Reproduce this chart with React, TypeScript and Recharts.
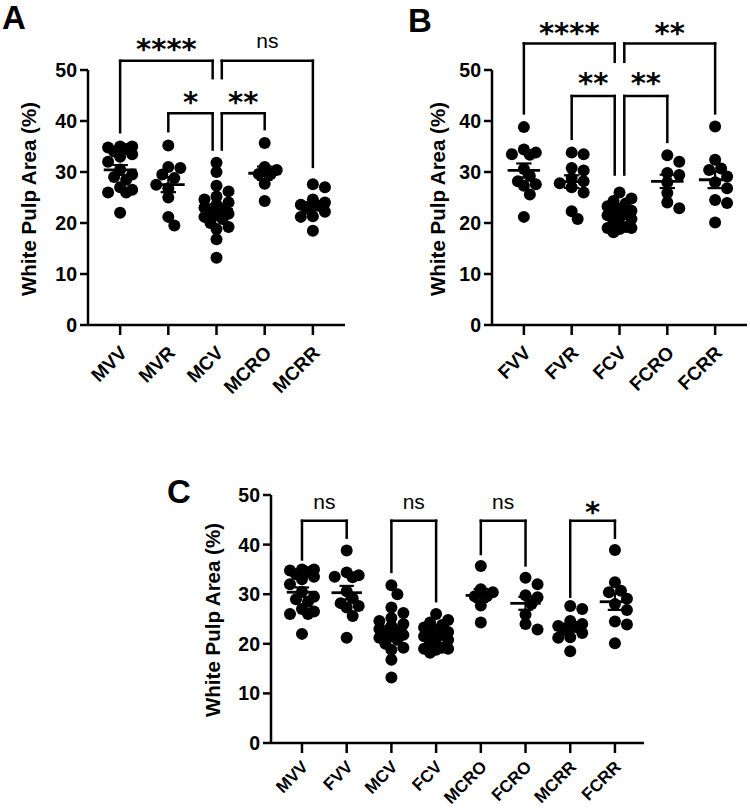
import React from 'react'
import { ScatterChart, Scatter, XAxis, YAxis, ReferenceLine, ReferenceDot } from 'recharts'

const FONT = "'Liberation Sans', Arial, Helvetica, sans-serif"

// groups per panel
const groupsA = ['MVV', 'MVR', 'MCV', 'MCRO', 'MCRR']
const groupsB = ['FVV', 'FVR', 'FCV', 'FCRO', 'FCRR']
const groupsC = ['MVV', 'FVV', 'MCV', 'FCV', 'MCRO', 'FCRO', 'MCRR', 'FCRR']
const yTicks = [0, 10, 20, 30, 40, 50]

// white pulp area (%) per animal
const mvv = [35, 35, 34.8, 34.5, 34, 33.5, 33, 32, 30.5, 29.5, 29, 28.5, 27, 26.5, 26, 26, 22]
const mvr = [35.2, 31.0, 30.8, 29.5, 28.8, 26.8, 27.5, 25.0, 21.2, 19.5]
const mcv = [31.8, 30.0, 27.3, 26.2, 25.2, 24.6, 24.0, 23.6, 23.0, 22.6, 22.2, 21.8, 21.5, 21.2, 20.8, 20.0, 19.2, 18.8, 16.8, 13.2]
const mcro = [35.7, 31.0, 30.4, 29.6, 29.6, 27.7, 24.3]
const mcrr = [27.6, 27.0, 24.6, 24.0, 23.6, 23.4, 22.8, 22.2, 21.3, 21.2, 18.5]
const fvv = [38.8, 34.4, 33.8, 33.5, 33.4, 30.6, 29.2, 28.2, 27.6, 27.3, 25.6, 21.2]
const fvr = [33.8, 33.5, 30.8, 30.3, 28.8, 28.2, 27.8, 27.0, 26.0, 22.3, 20.8]
const fcv = [26.0, 24.8, 24.3, 23.8, 23.3, 22.8, 22.4, 22.0, 21.8, 21.5, 21.0, 20.8, 20.2, 19.2, 19.0, 19.0, 18.8, 18.2]
const fcro = [33.3, 32.0, 29.8, 29.4, 28.0, 25.9, 24.0, 22.9]
const fcrr = [38.9, 32.4, 30.7, 30.4, 29.1, 28.0, 26.8, 24.5, 23.9, 20.1]

// significance brackets: x1/x2 in group index, y values in %
const bracketsA = [
  { x1: 1, x2: 2.92, top: 51.8, y1: 37.8, y2: 48.4, text: '****', ty: 55.2 },
  { x1: 3.11, x2: 5, top: 51.8, y1: 48.4, y2: 31, text: 'ns', ty: 55.4 },
  { x1: 2, x2: 2.92, top: 41.5, y1: 38, y2: 34.4, text: '*', ty: 44.9 },
  { x1: 3.11, x2: 4, top: 41.5, y1: 34.4, y2: 38.4, text: '**', ty: 44.9 },
]
const bracketsB = [
  { x1: 1, x2: 2.9, top: 55.2, y1: 41.5, y2: 51.6, text: '****', ty: 58.5 },
  { x1: 3.1, x2: 5, top: 55.2, y1: 51.6, y2: 41.5, text: '**', ty: 58.5 },
  { x1: 2, x2: 2.9, top: 44.9, y1: 36.5, y2: 29.5, text: '**', ty: 48.6 },
  { x1: 3.1, x2: 4, top: 44.9, y1: 29.5, y2: 35.9, text: '**', ty: 48.6 },
]
const bracketsC = [
  { x1: 1, x2: 2, top: 44.8, y1: 37, y2: 41.4, text: 'ns', ty: 48.4 },
  { x1: 3, x2: 4, top: 44.8, y1: 34.5, y2: 28.6, text: 'ns', ty: 48.4 },
  { x1: 5, x2: 6, top: 44.8, y1: 38.1, y2: 35.8, text: 'ns', ty: 48.4 },
  { x1: 7, x2: 8, top: 44.8, y1: 29.5, y2: 41.4, text: '*', ty: 47.8 },
]

type Bracket = { x1: number; x2: number; top: number; y1: number; y2: number; text: string; ty: number }

// simple beeswarm so dots don't pile up on one vertical line
function swarm(values: number[], pxX: number, pxY: number) {
  const step = 6
  const minD = 9
  const placed: { ox: number; oy: number }[] = []
  return values.map((v) => {
    const oy = v * pxY
    let best = 0
    let bestScore = Infinity
    for (const k of [0, 1, -1, 2, -2]) {
      const ox = k * step
      let overlap = 0
      for (const p of placed) {
        const d = Math.hypot(p.ox - ox, p.oy - oy)
        if (d < minD) overlap += minD - d
      }
      if (overlap < bestScore) {
        bestScore = overlap
        best = ox
      }
      if (overlap === 0) break
    }
    placed.push({ ox: best, oy })
    return best / pxX
  })
}

function stats(values: number[]) {
  const n = values.length
  const mean = values.reduce((a, b) => a + b, 0) / n
  const sd = Math.sqrt(values.reduce((a, b) => a + (b - mean) ** 2, 0) / (n - 1))
  return { mean, sem: sd / Math.sqrt(n) }
}

const line = { stroke: '#000', strokeWidth: 2.5 }

function CatTick(props: any) {
  const { x, y, payload, names, size, dx, dy } = props
  return (
    <g transform={`translate(${x + dx},${y + dy}) rotate(-45)`}>
      <text x={0} y={0} textAnchor="end" fill="#000" fontSize={size} fontWeight={700} fontFamily={FONT}>
        {names[payload.value - 1]}
      </text>
    </g>
  )
}

function SigText(props: any) {
  const { cx, cy, text } = props
  const star = text.includes('*')
  return (
    <text
      x={cx}
      y={cy + (star ? 16 : 6)}
      textAnchor="middle"
      fill="#000"
      fontSize={star ? 29 : 21}
      fontWeight={star ? 700 : 400}
      fontFamily={star ? "'DejaVu Sans', sans-serif" : FONT}
    >
      {text}
    </text>
  )
}

interface PanelProps {
  groups: string[]
  series: number[][]
  brackets: Bracket[]
  width: number
  height: number
  margin: { top: number; right: number; bottom: number; left: number }
  domainX: [number, number]
  pxX: number
  pxY: number
  catSize: number
  catDx: number
  catDy: number
}

function Panel({ groups, series, brackets, width, height, margin, domainX, pxX, pxY, catSize, catDx, catDy }: PanelProps) {
  const points = series.flatMap((vals, i) => {
    const offs = swarm(vals, pxX, pxY)
    return vals.map((v, j) => ({ x: i + 1 + offs[j], y: v }))
  })
  const summary = series.map(stats)

  return (
    <ScatterChart width={width} height={height} margin={margin}>
      <XAxis
        type="number"
        dataKey="x"
        domain={domainX}
        ticks={groups.map((_, i) => i + 1)}
        interval={0}
        height={60}
        tickSize={10}
        axisLine={line}
        tickLine={line}
        tick={(p: any) => <CatTick {...p} names={groups} size={catSize} dx={catDx} dy={catDy} />}
        allowDataOverflow
      />
      <YAxis
        type="number"
        dataKey="y"
        domain={[0, 50]}
        ticks={yTicks}
        width={58}
        tickSize={8}
        tickMargin={3}
        axisLine={line}
        tickLine={line}
        tick={{ fill: '#000', fontSize: 19.5, fontWeight: 700, fontFamily: FONT }}
      />
      <Scatter
        data={points}
        isAnimationActive={false}
        shape={(p: any) => <circle cx={p.cx} cy={p.cy} r={6} fill="#000" />}
      />
      {summary.map((s, i) => {
        const c = i + 1
        return (
          <React.Fragment key={'m' + i}>
            <ReferenceLine segment={[{ x: c - 0.34, y: s.mean }, { x: c + 0.34, y: s.mean }]} stroke="#000" strokeWidth={2.8} ifOverflow="visible" />
            <ReferenceLine segment={[{ x: c, y: s.mean - s.sem }, { x: c, y: s.mean + s.sem }]} stroke="#000" strokeWidth={2.2} ifOverflow="visible" />
            <ReferenceLine segment={[{ x: c - 0.16, y: s.mean + s.sem }, { x: c + 0.16, y: s.mean + s.sem }]} stroke="#000" strokeWidth={2.2} ifOverflow="visible" />
            <ReferenceLine segment={[{ x: c - 0.16, y: s.mean - s.sem }, { x: c + 0.16, y: s.mean - s.sem }]} stroke="#000" strokeWidth={2.2} ifOverflow="visible" />
          </React.Fragment>
        )
      })}
      {brackets.map((b, i) => (
        <React.Fragment key={'b' + i}>
          <ReferenceLine segment={[{ x: b.x1, y: b.y1 }, { x: b.x1, y: b.top }]} {...line} strokeLinecap="square" ifOverflow="visible" />
          <ReferenceLine segment={[{ x: b.x1, y: b.top }, { x: b.x2, y: b.top }]} {...line} strokeLinecap="square" ifOverflow="visible" />
          <ReferenceLine segment={[{ x: b.x2, y: b.top }, { x: b.x2, y: b.y2 }]} {...line} strokeLinecap="square" ifOverflow="visible" />
          <ReferenceDot
            x={(b.x1 + b.x2) / 2}
            y={b.ty}
            r={0}
            ifOverflow="visible"
            shape={(p: any) => <SigText cx={p.cx} cy={p.cy} text={b.text} />}
          />
        </React.Fragment>
      ))}
    </ScatterChart>
  )
}

function YLabel({ cx, cy }: { cx: number; cy: number }) {
  return (
    <div
      style={{
        position: 'absolute',
        left: cx,
        top: cy,
        transform: 'translate(-50%, -50%) rotate(-90deg)',
        whiteSpace: 'nowrap',
        fontFamily: FONT,
        fontWeight: 700,
        fontSize: 20.5,
        color: '#000',
      }}
    >
      White Pulp Area (%)
    </div>
  )
}

function Letter({ x, y, children }: { x: number; y: number; children: string }) {
  return (
    <div style={{ position: 'absolute', left: x, top: y, fontFamily: FONT, fontWeight: 700, fontSize: 33, lineHeight: 1, color: '#000' }}>
      {children}
    </div>
  )
}

export default function App() {
  return (
    <div style={{ position: 'absolute', left: 0, top: 0, width: 750, height: 812, background: '#fff', overflow: 'hidden' }}>
      <div style={{ position: 'absolute', left: 0, top: 0 }}>
        <Panel
          groups={groupsA}
          series={[mvv, mvr, mcv, mcro, mcrr]}
          brackets={bracketsA}
          width={375}
          height={400}
          margin={{ top: 70, right: 30, bottom: 15, left: 30 }}
          domainX={[1 / 3, 17 / 3]}
          pxX={48}
          pxY={5.1}
          catSize={19}
          catDx={8}
          catDy={17}
        />
      </div>
      <div style={{ position: 'absolute', left: 375, top: 0 }}>
        <Panel
          groups={groupsB}
          series={[fvv, fvr, fcv, fcro, fcrr]}
          brackets={bracketsB}
          width={375}
          height={400}
          margin={{ top: 70, right: 3, bottom: 15, left: 59 }}
          domainX={[1 / 3, 17 / 3]}
          pxX={48}
          pxY={5.1}
          catSize={19}
          catDx={8}
          catDy={17}
        />
      </div>
      <div style={{ position: 'absolute', left: 150, top: 430 }}>
        <Panel
          groups={groupsC}
          series={[mvv, fvv, mcv, fcv, mcro, fcro, mcrr, fcrr]}
          brackets={bracketsC}
          width={520}
          height={382}
          margin={{ top: 65, right: 26, bottom: 9, left: 63 }}
          domainX={[0.307, 8.65]}
          pxX={44.7}
          pxY={4.98}
          catSize={17}
          catDx={7}
          catDy={13}
        />
      </div>
      <YLabel cx={29} cy={199} />
      <YLabel cx={438} cy={199} />
      <YLabel cx={213} cy={620} />
      <Letter x={2} y={1}>A</Letter>
      <Letter x={408} y={4}>B</Letter>
      <Letter x={167} y={475}>C</Letter>
    </div>
  )
}
